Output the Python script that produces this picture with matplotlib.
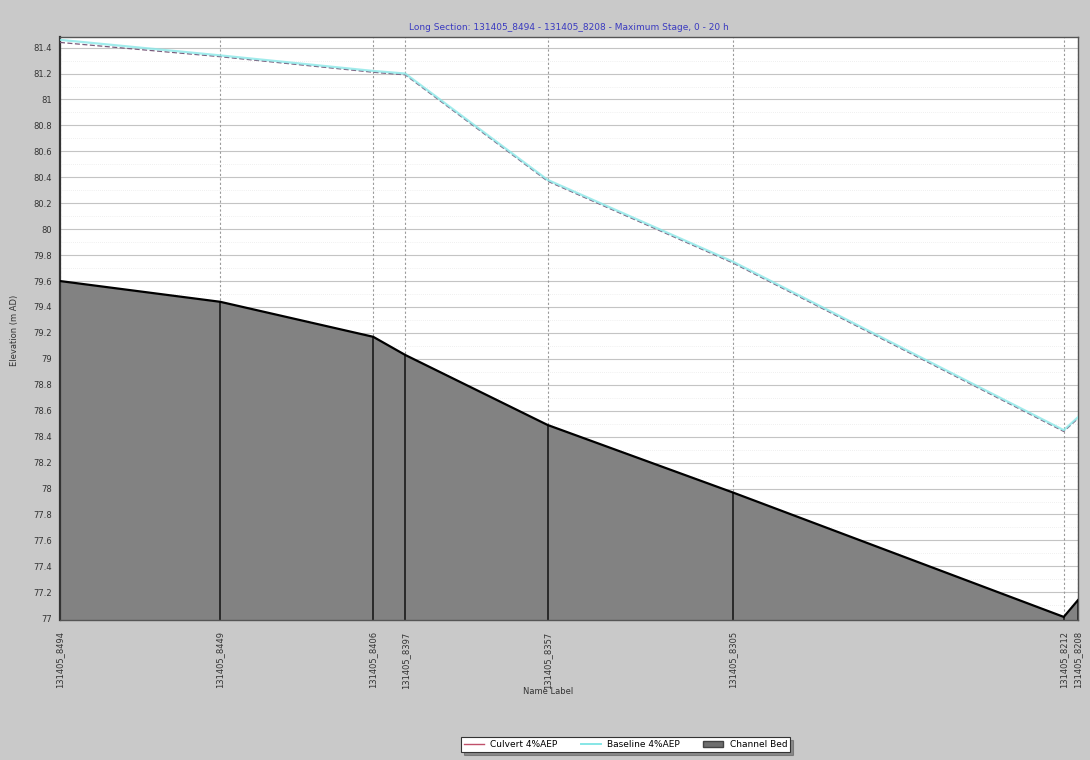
import matplotlib
matplotlib.use("Agg")
import matplotlib.pyplot as plt
from matplotlib.patches import Patch
from matplotlib.lines import Line2D
import numpy as np

# Cross-section names and their chainages (m)
sections = ["131405_8494", "131405_8449", "131405_8406", "131405_8397",
            "131405_8357", "131405_8305", "131405_8212", "131405_8208"]
chainage = [8494, 8449, 8406, 8397, 8357, 8305, 8212, 8208]

# Levels (m AD) at each section
bed_level = [79.60, 79.44, 79.17, 79.03, 78.49, 77.97, 77.01, 77.14]
culvert_stage = [81.44, 81.33, 81.21, 81.19, 80.37, 79.74, 78.44, 78.54]
baseline_stage = [81.46, 81.34, 81.22, 81.20, 80.38, 79.75, 78.45, 78.55]

y_ticks = [77, 77.2, 77.4, 77.6, 77.8, 78, 78.2, 78.4, 78.6, 78.8, 79,
           79.2, 79.4, 79.6, 79.8, 80, 80.2, 80.4, 80.6, 80.8, 81, 81.2, 81.4]

dist = [chainage[0] - c for c in chainage]

fig = plt.figure(figsize=(10.9, 7.6), dpi=100, facecolor="#c9c9c9")
ax = fig.add_axes([0.055, 0.184, 0.934, 0.767])
ax.set_facecolor("white")

ymin, ymax = 76.985, 81.48
ax.set_xlim(dist[0], dist[-1])
ax.set_ylim(ymin, ymax)

# grid
for yt in y_ticks:
    ax.axhline(yt, color="#c4c4c4", lw=0.8, zorder=0)
minor_y = np.arange(77.1, 81.45, 0.2)
for yt in minor_y:
    ax.axhline(yt, color="#e2e2e2", lw=0.5, ls=(0, (1, 2)), zorder=0)
for d in dist:
    ax.axvline(d, color="#9a9a9a", lw=0.8, ls=(0, (2, 2)), zorder=0.5)

# channel bed
ax.fill_between(dist, bed_level, ymin, color="#828282", zorder=1, lw=0)
ax.plot(dist, bed_level, color="black", lw=1.6, zorder=3)
ax.vlines(dist, ymin, bed_level, color="#1a1a1a", lw=1.2, zorder=2)

# water levels
ax.plot(dist, culvert_stage, color="#7a5a7a", lw=0.9, ls=(0, (4, 2)), zorder=4)
ax.plot(dist, baseline_stage, color="#8ae8e8", lw=1.6, alpha=0.8, zorder=5)

ax.set_yticks(y_ticks)
ax.set_yticklabels([f"{v:g}" for v in y_ticks])
ax.set_xticks(dist)
ax.set_xticklabels(sections, rotation=90, va="top", ha="center")
ax.tick_params(axis="both", labelsize=6, colors="#333333", length=0, pad=6)
ax.tick_params(axis="x", pad=8)

for s in ax.spines.values():
    s.set_color("#555555")
    s.set_linewidth(1.0)
ax.spines["left"].set_linewidth(1.6)
ax.spines["left"].set_color("#333333")

ax.set_title("Long Section: 131405_8494 - 131405_8208 - Maximum Stage, 0 - 20 h",
             fontsize=6.5, color="#3a3ac0", pad=5)
fig.text(0.013, 0.565, "Elevation (m AD)", rotation=90, fontsize=6,
         color="#333333", ha="center", va="center")
fig.text(0.503, 0.09, "Name Label", fontsize=6, color="#333333",
         ha="center", va="center")

handles = [Line2D([0], [0], color="#c0506a", lw=1.0),
           Line2D([0], [0], color="#86e6e6", lw=1.4),
           Patch(facecolor="#6e6e6e", edgecolor="#444444")]
leg = fig.legend(handles, ["Culvert 4%AEP", "Baseline 4%AEP", "Channel Bed"],
                 loc="center", bbox_to_anchor=(0.574, 0.020), ncol=3,
                 fontsize=6.5, frameon=True, fancybox=False, shadow=True,
                 handlelength=2.2, columnspacing=2.6, handletextpad=0.7,
                 borderpad=0.35)
leg.get_frame().set_edgecolor("#333333")
leg.get_frame().set_linewidth(0.8)

fig.savefig("out.png", dpi=100, facecolor=fig.get_facecolor())
